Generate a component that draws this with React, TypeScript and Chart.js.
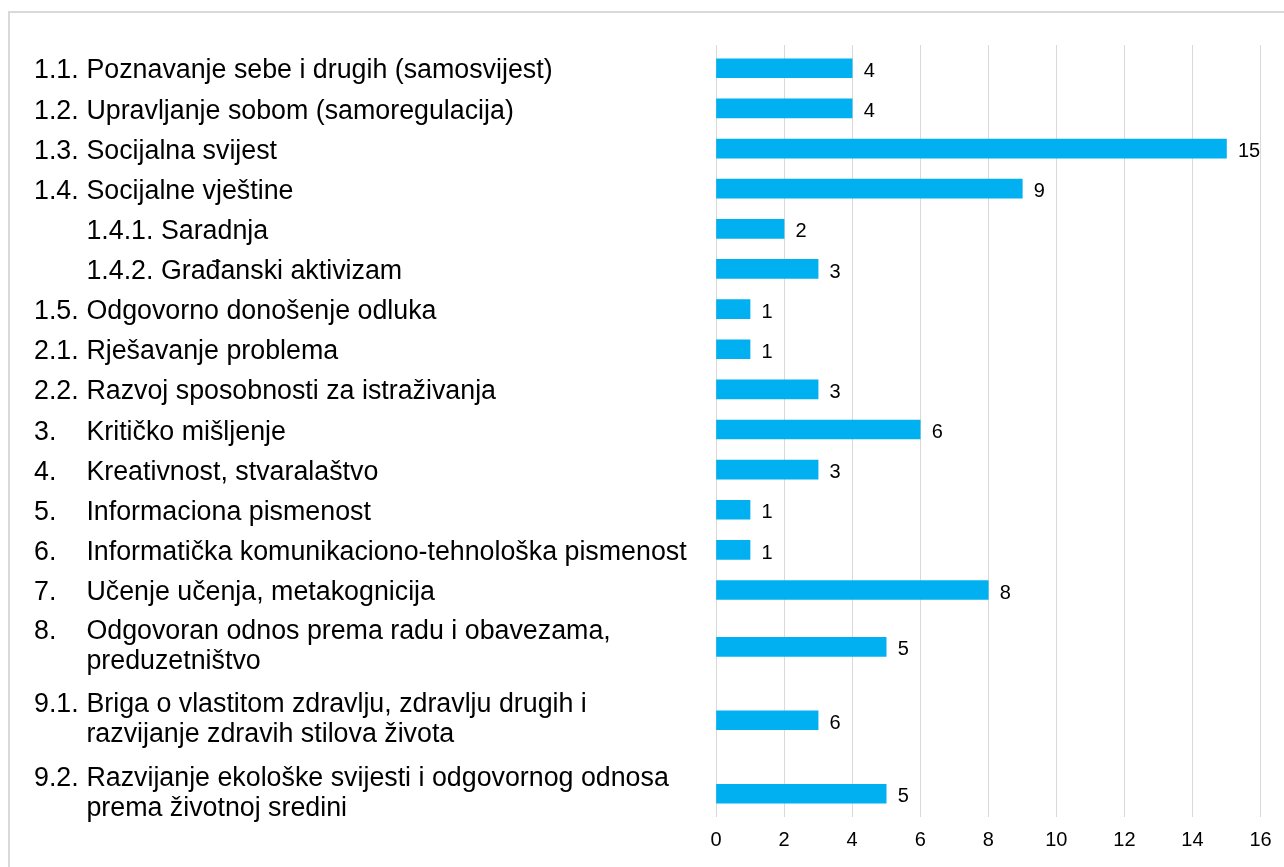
import React, { useEffect, useRef } from "react";
import { Chart, registerables } from "chart.js";

Chart.register(...registerables);

const FONT = '"Liberation Sans", Arial, Helvetica, sans-serif';

const categoryNumbers = ["1.1.", "1.2.", "1.3.", "1.4.", "1.4.1.", "1.4.2.", "1.5.", "2.1.", "2.2.", "3.", "4.", "5.", "6.", "7.", "8.", "9.1.", "9.2."];
const categoryLevels = [0, 0, 0, 0, 1, 1, 0, 0, 0, 0, 0, 0, 0, 0, 0, 0, 0];
const categoryTexts: string[][] = [
  ["Poznavanje sebe i drugih (samosvijest)"],
  ["Upravljanje sobom (samoregulacija)"],
  ["Socijalna svijest"],
  ["Socijalne vještine"],
  ["Saradnja"],
  ["Građanski aktivizam"],
  ["Odgovorno donošenje odluka"],
  ["Rješavanje problema"],
  ["Razvoj sposobnosti za istraživanja"],
  ["Kritičko mišljenje"],
  ["Kreativnost, stvaralaštvo"],
  ["Informaciona pismenost"],
  ["Informatička komunikaciono-tehnološka pismenost"],
  ["Učenje učenja, metakognicija"],
  ["Odgovoran odnos prema radu i obavezama,", "preduzetništvo"],
  ["Briga o vlastitom zdravlju, zdravlju drugih i", "razvijanje zdravih stilova života"],
  ["Razvijanje ekološke svijesti i odgovornog odnosa", "prema životnoj sredini"],
];
const barValues = [4, 4, 15, 9, 2, 3, 1, 1, 3, 6, 3, 1, 1, 8, 5, 3, 5];
const barLabels = ["4", "4", "15", "9", "2", "3", "1", "1", "3", "6", "3", "1", "1", "8", "5", "6", "5"];
const xTicks = [0, 2, 4, 6, 8, 10, 12, 14, 16];

// layout constants (styling)
const TWO_LINE_WEIGHT = 1.83;
const ROW_PAD = 0.58;
const LABEL_FONT = 26.8;
const VALUE_FONT = 20;
const NUM_X = 34;
const TEXT_X = 86.4;

function rowPositions(): number[] {
  const w = categoryTexts.map((t) => (t.length > 1 ? TWO_LINE_WEIGHT : 1));
  const pos: number[] = [];
  w.forEach((wi, i) => {
    if (i === 0) pos.push(0);
    else pos.push(pos[i - 1] + (w[i - 1] + wi) / 2);
  });
  return pos;
}

export default function App() {
  const ref = useRef<HTMLCanvasElement | null>(null);

  useEffect(() => {
    if (!ref.current) return;
    const positions = rowPositions();
    const yMin = -ROW_PAD;
    const yMax = positions[positions.length - 1] + ROW_PAD;

    const framePlugin = {
      id: "frame",
      beforeDraw(chart: any) {
        const ctx = chart.ctx;
        ctx.save();
        ctx.fillStyle = "#ffffff";
        ctx.fillRect(0, 0, chart.width, chart.height);
        ctx.fillStyle = "#d9d9d9";
        ctx.fillRect(8, 11, chart.width - 8, 2);
        ctx.fillRect(8, 11, 2, chart.height - 11);
        ctx.restore();
      },
    };

    const labelPlugin = {
      id: "catLabels",
      afterDraw(chart: any) {
        const ctx = chart.ctx;
        const ys = chart.scales.y;
        ctx.save();
        ctx.font = `${LABEL_FONT}px ${FONT}`;
        ctx.fillStyle = "#000000";
        ctx.textAlign = "left";
        ctx.textBaseline = "alphabetic";
        const capHalf = 0.358 * LABEL_FONT;
        positions.forEach((p, i) => {
          const cy = ys.getPixelForValue(p);
          const lines = categoryTexts[i];
          const offsets = lines.length === 1 ? [0.5] : [-17.5, 12.5];
          lines.forEach((line, j) => {
            const by = cy + offsets[j] + capHalf;
            if (j === 0) {
              if (categoryLevels[i] === 0) {
                ctx.fillText(categoryNumbers[i], NUM_X, by);
                ctx.fillText(line, TEXT_X, by);
              } else {
                ctx.fillText(categoryNumbers[i] + " " + line, TEXT_X, by);
              }
            } else {
              ctx.fillText(line, TEXT_X, by);
            }
          });
        });
        ctx.restore();
      },
    };

    const valuePlugin = {
      id: "valueLabels",
      afterDatasetsDraw(chart: any) {
        const ctx = chart.ctx;
        const meta = chart.getDatasetMeta(0);
        ctx.save();
        ctx.font = `${VALUE_FONT}px ${FONT}`;
        ctx.fillStyle = "#000000";
        ctx.textAlign = "left";
        ctx.textBaseline = "alphabetic";
        meta.data.forEach((bar: any, i: number) => {
          ctx.fillText(barLabels[i], bar.x + 11.5, bar.y + 8.6);
        });
        ctx.restore();
      },
    };

    const chart = new Chart(ref.current, {
      type: "bar",
      data: {
        datasets: [
          {
            data: positions.map((p, i) => ({ x: barValues[i], y: p })) as any,
            backgroundColor: "#00B0F0",
            borderWidth: 0,
            barThickness: 19,
          },
        ],
      },
      options: {
        indexAxis: "y",
        animation: false,
        responsive: false,
        devicePixelRatio: 1,
        layout: { padding: { left: 716, right: 23.5, top: 45, bottom: 15 } },
        plugins: { legend: { display: false }, tooltip: { enabled: false } },
        scales: {
          x: {
            type: "linear",
            position: "bottom",
            min: 0,
            max: 16,
            afterBuildTicks: (axis: any) => {
              axis.ticks = xTicks.map((v) => ({ value: v }));
            },
            afterFit: (axis: any) => {
              axis.height = 35;
            },
            ticks: {
              color: "#000000",
              font: { family: FONT, size: VALUE_FONT },
              padding: 11,
              maxRotation: 0,
            },
            grid: { color: "#d9d9d9", lineWidth: 1, drawTicks: false },
            border: { display: false },
          },
          y: {
            type: "linear",
            position: "left",
            display: true,
            offset: false,
            bounds: "data",
            reverse: true,
            min: yMin,
            max: yMax,
            afterDataLimits: (axis: any) => {
              axis.min = yMin;
              axis.max = yMax;
            },
            afterBuildTicks: (axis: any) => {
              axis.min = yMin;
              axis.max = yMax;
            },
            afterFit: (axis: any) => {
              axis.width = 0;
            },
            ticks: { display: false },
            grid: { display: false, offset: false },
            border: { display: false },
          },
        },
      } as any,
      plugins: [framePlugin, labelPlugin, valuePlugin],
    });
    return () => chart.destroy();
  }, []);

  return (
    <canvas
      ref={ref}
      width={1284}
      height={867}
      style={{ position: "fixed", left: 0, top: 0, width: 1284, height: 867, display: "block" }}
    />
  );
}
